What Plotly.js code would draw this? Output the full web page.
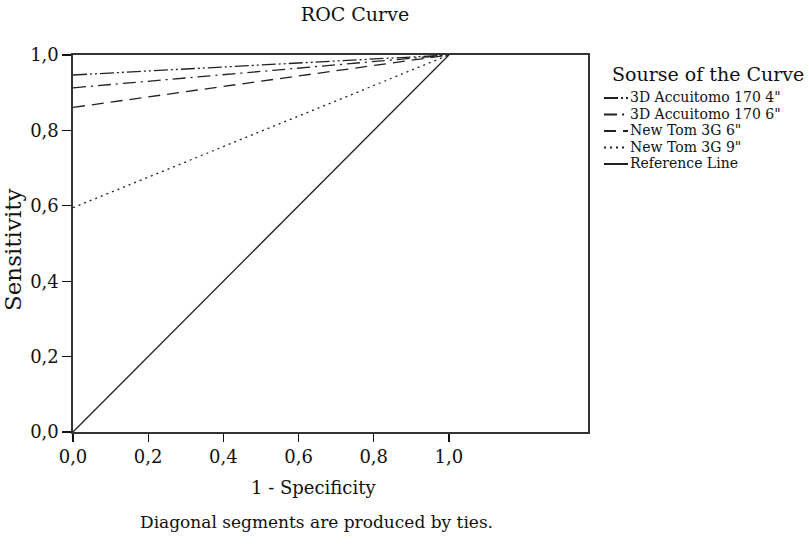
<!DOCTYPE html>
<html>
<head>
<meta charset="utf-8">
<script src="https://cdn.plot.ly/plotly-3.0.1.min.js"></script>
<style>html,body{margin:0;padding:0;background:#fff;}#chart{width:809px;height:552px;}</style>
</head>
<body>
<div id="chart"></div>
<script>
// Series names (legend order)
const seriesNames = ['3D Accuitomo 170 4"', '3D Accuitomo 170 6"', 'New Tom 3G 6"', 'New Tom 3G 9"', 'Reference Line'];
// ROC curve points: 1 - Specificity (x) and Sensitivity (y)
const xAccu4 = [0, 1];
const yAccu4 = [0.947, 1];
const xAccu6 = [0, 1];
const yAccu6 = [0.913, 1];
const xNT6 = [0, 1];
const yNT6 = [0.861, 1];
const xNT9 = [0, 1];
const yNT9 = [0.595, 1];
const xRef = [0, 1];
const yRef = [0, 1];
const tickVals = [0, 0.2, 0.4, 0.6, 0.8, 1.0];
const tickText = ['0,0', '0,2', '0,4', '0,6', '0,8', '1,0'];
const legendTitle = 'Sourse of the Curve';

const FONT = 'DejaVu Serif, Liberation Serif, serif';
const TXT = '#111';
const LC = '#222';
const dashes = ['14px,3px,2px,3px,2px,3px', '13px,5px,2px,5px', '12px,7px', '2px,4px', 'solid'];
const xs = [xAccu4, xAccu6, xNT6, xNT9, xRef];
const ys = [yAccu4, yAccu6, yNT6, yNT9, yRef];

const traces = seriesNames.map((n, i) => ({
  x: xs[i], y: ys[i], name: n, type: 'scatter', mode: 'lines',
  line: {color: LC, width: 1.3, dash: dashes[i]},
  hoverinfo: 'none', showlegend: false
}));

// plot area geometry in pixels (for converting placement of texts)
const M = {l: 73, r: 221, t: 55, b: 120};
const PW = 809 - M.l - M.r, PH = 552 - M.t - M.b;
const px = v => (v - M.l) / PW;
const py = v => (552 - M.b - v) / PH;

const annotations = [
  {text: '1 - Specificity', xref: 'paper', yref: 'paper', x: px(313), y: py(487),
   xanchor: 'center', yanchor: 'middle', showarrow: false, font: {family: FONT, size: 18, color: TXT}},
  {text: 'Sensitivity', xref: 'paper', yref: 'paper', x: px(13), y: py(250), textangle: -90,
   xanchor: 'center', yanchor: 'middle', showarrow: false, font: {family: FONT, size: 23, color: TXT}},
  {text: 'Diagonal segments are produced by ties.', xref: 'paper', yref: 'paper', x: px(316), y: py(522),
   xanchor: 'center', yanchor: 'middle', showarrow: false, font: {family: FONT, size: 17, color: TXT}},
  {text: legendTitle, xref: 'paper', yref: 'paper', x: px(611), y: py(74),
   xanchor: 'left', yanchor: 'middle', showarrow: false, borderpad: 0, font: {family: FONT, size: 19, color: TXT}}
];
const shapes = [];
seriesNames.forEach((n, i) => {
  const yc = 98 + 16.5 * i;
  annotations.push({text: n, xref: 'paper', yref: 'paper', x: px(629), y: py(yc - 1),
    xanchor: 'left', yanchor: 'middle', showarrow: false, borderpad: 0, font: {family: FONT, size: 14, color: TXT}});
  shapes.push({type: 'line', xref: 'paper', yref: 'paper', x0: px(604), x1: px(628), y0: py(yc), y1: py(yc),
    line: {color: LC, width: 2, dash: dashes[i]}});
});

const layout = {
  width: 809, height: 552,
  margin: Object.assign({autoexpand: false}, M),
  paper_bgcolor: '#fff', plot_bgcolor: '#fff',
  font: {family: FONT, color: TXT, size: 16},
  title: {text: 'ROC Curve', font: {family: FONT, size: 19, color: TXT},
          x: px(355), xref: 'paper', xanchor: 'center', y: 1 - 14 / 552, yref: 'container', yanchor: 'middle'},
  xaxis: {
    range: [0, 1.37], tickvals: tickVals, ticktext: tickText,
    ticks: 'outside', ticklen: 8, tickwidth: 1.2, tickcolor: TXT,
    showline: true, linecolor: '#333', linewidth: 1.6, mirror: true, layer: 'above traces',
    showgrid: false, zeroline: false,
    tickfont: {family: FONT, size: 18, color: TXT}
  },
  yaxis: {
    range: [0, 1], tickvals: tickVals, ticktext: tickText,
    ticks: 'outside', ticklen: 9, tickwidth: 1.2, tickcolor: TXT,
    showline: true, linecolor: '#333', linewidth: 1.6, mirror: true, layer: 'above traces',
    showgrid: false, zeroline: false,
    tickfont: {family: FONT, size: 18, color: TXT}
  },
  showlegend: false,
  annotations: annotations,
  shapes: shapes
};

Plotly.newPlot('chart', traces, layout, {displayModeBar: false, staticPlot: true});
</script>
</body>
</html>
